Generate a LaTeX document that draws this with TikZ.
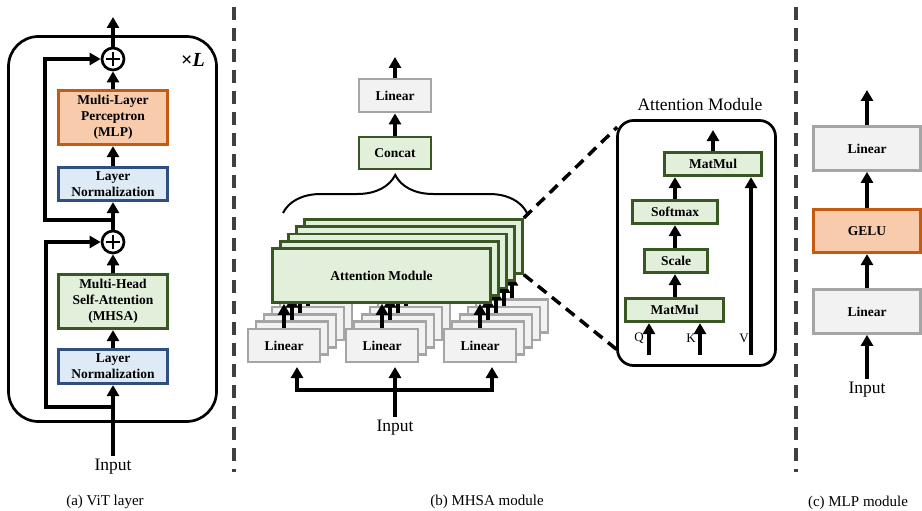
\documentclass[tikz,border=0pt]{standalone}
\usepackage{fontspec}
\setmainfont{Liberation Serif}
\usetikzlibrary{arrows.meta,decorations.pathreplacing,positioning}
\definecolor{grayfill}{HTML}{F2F2F2}
\definecolor{grayline}{HTML}{A5A5A5}
\definecolor{greenfill}{HTML}{E2EFDA}
\definecolor{greenline}{HTML}{385723}
\definecolor{orangefill}{HTML}{F8CBAD}
\definecolor{orangeline}{HTML}{C55A11}
\definecolor{bluefill}{HTML}{DEEBF7}
\definecolor{blueline}{HTML}{2F4F7F}
\definecolor{sepgray}{HTML}{404040}
\begin{document}
\begin{tikzpicture}[
  x = 1pt, y = -1pt,
  box/.style = {draw, line width = 2.7pt, align = center, inner sep = 0pt,
                font = \bfseries\fontsize{13.5}{16}\selectfont},
  wh/.style 2 args = {minimum width = #1pt, minimum height = #2pt},
  graybox/.style = {box, draw = grayline, fill = grayfill},
  greenbox/.style = {box, draw = greenline, fill = greenfill},
  orangebox/.style = {box, draw = orangeline, fill = orangefill},
  bluebox/.style = {box, draw = blueline, fill = bluefill},
  flow/.style = {line width = 4.5pt, -{Triangle[length = 11pt, width = 12pt]}},
  skip/.style = {line width = 3.2pt, -{Triangle[length = 11pt, width = 12pt]}},
  addnode/.style = {circle, draw, line width = 2.7pt, minimum size = 22pt, inner sep = 0pt},
  frame/.style = {draw, line width = 2.7pt, inner sep = 0pt},
  sep/.style = {line width = 4pt, draw = sepgray, dash pattern = on 13pt off 8pt},
  zoomline/.style = {line width = 3.5pt, dash pattern = on 11pt off 7pt},
  lbl/.style = {font = \fontsize{17.5}{20}\selectfont},
  captxt/.style = {font = \fontsize{15}{18}\selectfont},
  ]
  \useasboundingbox (0,0) rectangle (922,511);

  \node[frame, rounded corners = 30pt, wh = {208}{385}] (vit) at (112.5,229) {};
  \node[font = \bfseries\fontsize{20}{20}\selectfont] (times) at (193,60) {×\textit{L}};
  \node[addnode] (addt) at (113,59) {};
  \node[addnode] (addb) at (113,242) {};
  \draw[line width = 2.7pt] ([yshift = 7pt]addt.center) -- ([yshift = -7pt]addt.center)
                            ([xshift = -7pt]addt.center) -- ([xshift = 7pt]addt.center);
  \draw[line width = 2.7pt] ([yshift = 7pt]addb.center) -- ([yshift = -7pt]addb.center)
                            ([xshift = -7pt]addb.center) -- ([xshift = 7pt]addb.center);
  \node[orangebox, wh = {109.5}{54.5}] (mlp) at (113,117.5) {Multi-Layer\\Perceptron\\(MLP)};
  \node[bluebox, wh = {109.5}{33.5}] (lnt) at (113,184) {Layer\\Normalization};
  \node[greenbox, wh = {109.5}{54.5}] (mhsa) at (113,301.5) {Multi-Head\\Self-Attention\\(MHSA)};
  \node[bluebox, wh = {109.5}{34.5}] (lnb) at (113,366.5) {Layer\\Normalization};
  \node[lbl] (ina) at (113,467) {Input};
  \coordinate (outa) at (113,17);
  \coordinate (skb) at (113,407);
  \coordinate (skt) at (113,220);
  \draw[flow] (ina.north) -- (lnb.south);
  \draw[flow] (lnb.north) -- (mhsa.south);
  \draw[flow] (mhsa.north) -- (addb.south);
  \draw[flow] (addb.north) -- (lnt.south);
  \draw[flow] (lnt.north) -- (mlp.south);
  \draw[flow] (mlp.north) -- (addt.south);
  \draw[flow] (addt.north) -- (outa);
  \draw[skip] (skb) -| (46,242) -- (addb.west);
  \draw[skip] (skt) -| (45,59) -- (addt.west);
  \node[captxt] (capa) at (105,502) {(a) ViT layer};

  \draw[sep] (234,7) -- (234,472);
  \draw[sep] (796,7) -- (796,472);

  \foreach \k/\lin/\att in {4/{}/{},3/{}/{},2/{}/{},1/{}/{},0/Linear/Attention Module} {
    \node[graybox, wh = {72}{33}] (lq\k) at (284+8*\k,345.5-7.3*\k) {\lin};
    \node[graybox, wh = {72}{33}] (lk\k) at (382+8*\k,345.5-7.3*\k) {\lin};
    \node[graybox, wh = {72}{33}] (lv\k) at (480+8*\k,345.5-7.3*\k) {\lin};
    \node[greenbox, wh = {218}{54}] (att\k) at (381.5+8*\k,275.5-7.3*\k) {\att};
    \draw[flow] (lq\k.north) -- (lq\k.north |- att\k.south);
    \draw[flow] (lk\k.north) -- (lk\k.north |- att\k.south);
    \draw[flow] (lv\k.north) -- (lv\k.north |- att\k.south);
  }
  \node[greenbox, wh = {72}{32}] (concat) at (395,153) {Concat};
  \node[graybox, wh = {72}{33}] (linb) at (395,95.5) {Linear};
  \coordinate (outb) at (395,57);
  \draw[flow] (concat.north) -- (linb.south);
  \draw[flow] (linb.north) -- (outb);
  \draw[line width = 2pt, decorate, decoration = {brace, amplitude = 38pt, aspect = 0.46}]
    (283,213) -- (527,213);
  \node[lbl] (inb) at (395,428) {Input};
  \coordinate (jb) at (395,390);
  \coordinate (ta) at (297,367);
  \coordinate (tb) at (395,367);
  \coordinate (tc) at (492,367);
  \draw[flow] (inb.north) -- (tb);
  \draw[flow] (inb.north) -- (jb) -| (ta);
  \draw[flow] (inb.north) -- (jb) -| (tc);
  \node[captxt] (capb) at (487,502) {(b) MHSA module};

  \node[frame, rounded corners = 16pt, wh = {158}{245}] (amod) at (696.5,243) {};
  \node[lbl] (amtitle) at (700,105) {Attention Module};
  \draw[zoomline] (att4.north east) -- ([shift = {(1,8)}]amod.north west);
  \draw[zoomline] (att4.south east) -- ([shift = {(1,-17)}]amod.south west);
  \node[greenbox, wh = {97}{23.5}] (mmt) at (713,164) {MatMul};
  \node[greenbox, wh = {85.5}{23.5}] (soft) at (675,212) {Softmax};
  \node[greenbox, wh = {62.5}{23.5}] (scale) at (676,261) {Scale};
  \node[greenbox, wh = {98.5}{23.5}] (mmb) at (674.5,310) {MatMul};
  \coordinate (outm) at (713,130);
  \coordinate (mid) at (675,0);
  \coordinate (qin) at (649,355);
  \coordinate (kin) at (700,355);
  \coordinate (vin) at (751,355);
  \draw[flow] (qin) -- (qin |- mmb.south);
  \draw[flow] (kin) -- (kin |- mmb.south);
  \draw[flow] (vin) -- (vin |- mmt.south);
  \draw[flow] (mmb.north -| mid) -- (scale.south -| mid);
  \draw[flow] (scale.north -| mid) -- (soft.south -| mid);
  \draw[flow] (soft.north -| mid) -- (mmt.south -| mid);
  \draw[flow] (mmt.north -| outm) -- (outm);
  \node[font = \fontsize{13}{15}\selectfont] (ql) at (639,338) {Q};
  \node[font = \fontsize{13}{15}\selectfont] (kl) at (691,338) {K};
  \node[font = \fontsize{13}{15}\selectfont] (vl) at (744,338) {V};

  \node[graybox, wh = {107}{44}] (linc2) at (867,148.5) {Linear};
  \node[orangebox, wh = {107}{43.5}] (gelu) at (867,231) {GELU};
  \node[graybox, wh = {107}{44}] (linc1) at (867,311.5) {Linear};
  \node[lbl] (inc) at (867,390) {Input};
  \coordinate (outc) at (867,90);
  \draw[flow] (inc.north) -- (linc1.south);
  \draw[flow] (linc1.north) -- (gelu.south);
  \draw[flow] (gelu.north) -- (linc2.south);
  \draw[flow] (linc2.north) -- (outc);
  \node[captxt] (capc) at (858,503) {(c) MLP module};
\end{tikzpicture}
\end{document}
